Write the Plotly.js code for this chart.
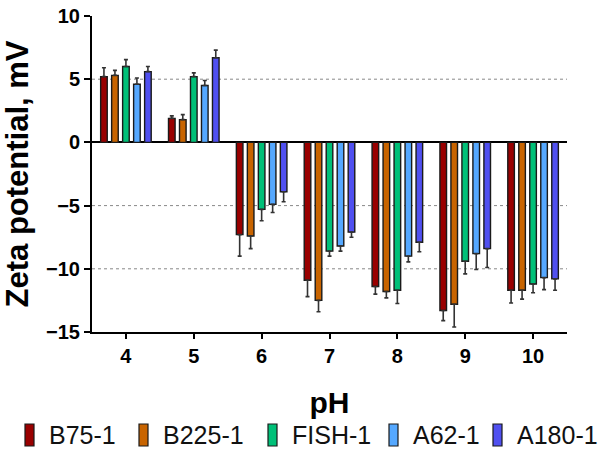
<!DOCTYPE html>
<html>
<head>
<meta charset="utf-8">
<script src="https://cdn.plot.ly/plotly-3.0.1.min.js"></script>
<style>
  html, body { margin: 0; padding: 0; background: #fff; }
  #chart { width: 600px; height: 452px; }
</style>
</head>
<body>
<div id="chart"></div>
<script>
// pH values on the x axis
const phLevels = ['4', '5', '6', '7', '8', '9', '10'];

// Sample names
const seriesNames = ['B75-1', 'B225-1', 'FISH-1', 'A62-1', 'A180-1'];

// Mean zeta potential (mV) per sample, one entry per pH
const b75 = [5.2, 1.9, -7.3, -10.9, -11.4, -13.3, -11.7];
const b225 = [5.3, 1.8, -7.4, -12.5, -11.8, -12.8, -11.7];
const fish = [6.0, 5.2, -5.3, -8.6, -11.7, -9.4, -11.2];
const a62 = [4.6, 4.5, -4.9, -8.2, -9.0, -8.8, -10.7];
const a180 = [5.6, 6.7, -3.9, -7.1, -7.9, -8.4, -10.8];

// Standard deviations (mV)
const b75Err = [0.7, 0.2, 1.7, 1.3, 0.6, 0.8, 1.0];
const b225Err = [0.4, 0.4, 1.0, 0.9, 0.5, 1.8, 0.7];
const fishErr = [0.55, 0.3, 0.9, 0.4, 1.05, 1.0, 0.7];
const a62Err = [0.5, 0.4, 0.65, 0.4, 0.45, 1.25, 0.95];
const a180Err = [0.4, 0.6, 0.8, 0.4, 0.75, 1.5, 0.9];

const colors = ['#990000', '#c86400', '#00c078', '#55a8ff', '#5050f0'];

const values = [b75, b225, fish, a62, a180];
const errors = [b75Err, b225Err, fishErr, a62Err, a180Err];

const FONT = 'Arial, "Liberation Sans", sans-serif';

// Figure geometry (px)
const W = 600, H = 452;
const M = { l: 92, r: 33, t: 16, b: 120 };
const plotW = W - M.l - M.r;
const plotH = H - M.t - M.b;
const toPaperX = px => (px - M.l) / plotW;
const toPaperY = py => (H - M.b - py) / plotH;

// Error bars point away from zero only
const traces = seriesNames.map((name, i) => {
  const v = values[i];
  const e = errors[i];
  return {
    type: 'bar',
    name: name,
    x: phLevels,
    y: v,
    marker: { color: colors[i], line: { color: '#1a1a1a', width: 1.4 } },
    error_y: {
      type: 'data',
      symmetric: false,
      array: v.map((val, k) => (val >= 0 ? e[k] : 0)),
      arrayminus: v.map((val, k) => (val < 0 ? e[k] : 0)),
      color: '#333333',
      thickness: 1.6,
      width: 2
    },
    showlegend: false,
    hoverinfo: 'x+y+name'
  };
});

// Dotted reference lines at ±5 and -10
const shapes = [5, -5, -10].map(y => ({
  type: 'line', xref: 'paper', yref: 'y', x0: 0, x1: 1, y0: y, y1: y,
  line: { color: '#888', width: 1, dash: 'dot' }, layer: 'below'
}));

// Legend row under the axis title: tall swatch + label per sample
const legendLeft = [25, 139, 268, 389, 493];
const legendMid = 435;
const annotations = [];
seriesNames.forEach((name, i) => {
  shapes.push({
    type: 'rect', xref: 'paper', yref: 'paper',
    x0: toPaperX(legendLeft[i]), x1: toPaperX(legendLeft[i] + 9),
    y0: toPaperY(legendMid + 11), y1: toPaperY(legendMid - 11),
    fillcolor: colors[i], line: { color: '#1a1a1a', width: 1.2 }
  });
  annotations.push({
    xref: 'paper', yref: 'paper',
    x: toPaperX(legendLeft[i] + 22), y: toPaperY(legendMid),
    xanchor: 'left', yanchor: 'middle', showarrow: false,
    text: name, font: { family: FONT, size: 25, color: '#111' }
  });
});

const layout = {
  width: W,
  height: H,
  margin: M,
  paper_bgcolor: '#ffffff',
  plot_bgcolor: '#ffffff',
  barmode: 'group',
  bargap: 0.19,
  bargroupgap: 0.4,
  font: { family: FONT, color: '#000' },
  showlegend: false,
  xaxis: {
    type: 'category',
    showline: true,
    linecolor: '#000',
    linewidth: 2,
    ticks: 'outside',
    ticklen: 5,
    tickwidth: 2,
    tickcolor: '#000',
    tickfont: { family: FONT, size: 20, color: '#000', weight: 'bold' },
    showgrid: false,
    zeroline: false,
    title: { text: '<b>pH</b>', font: { family: FONT, size: 30, color: '#000' }, standoff: 26 }
  },
  yaxis: {
    range: [-15, 10],
    tickvals: [-15, -10, -5, 0, 5, 10],
    showline: true,
    linecolor: '#000',
    linewidth: 2,
    ticks: 'outside',
    ticklen: 6,
    tickwidth: 2,
    tickcolor: '#000',
    tickfont: { family: FONT, size: 20, color: '#000', weight: 'bold' },
    showgrid: false,
    zeroline: true,
    zerolinecolor: '#000',
    zerolinewidth: 2,
    title: { text: '<b>Zeta potential, mV</b>', font: { family: FONT, size: 31, color: '#000' }, standoff: 9 }
  },
  shapes: shapes,
  annotations: annotations
};

Plotly.newPlot('chart', traces, layout, { displayModeBar: false, staticPlot: true });
</script>
</body>
</html>
